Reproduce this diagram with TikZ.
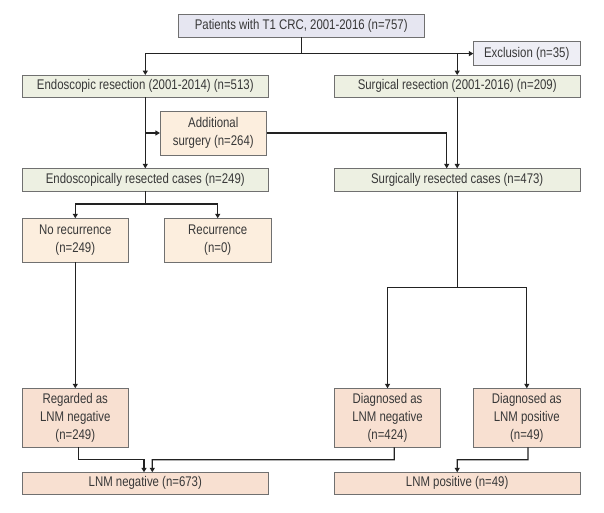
\documentclass[tikz,border=0pt]{standalone}
\usepackage{fontspec}
\setmainfont{Liberation Sans}[FakeStretch=0.815]
\usetikzlibrary{arrows.meta,calc}
\definecolor{lav}{HTML}{E6E6F1}
\definecolor{lavlight}{HTML}{EEEEF5}
\definecolor{grn}{HTML}{EDF0E2}
\definecolor{peach}{HTML}{FCEEDE}
\definecolor{pinkish}{HTML}{F8E0D1}
\definecolor{bordergrey}{HTML}{707070}
\definecolor{linecol}{HTML}{222222}
\definecolor{txt}{HTML}{383838}
\tikzset{
  box/.style={draw=bordergrey, line width=0.9pt, inner sep=0pt, outer sep=0pt,
    text=txt, align=center, font=\fontsize{14}{17.6}\selectfont},
  conn/.style={draw=linecol, line width=1.35pt},
  arr/.style={conn, -{Triangle[length=4.5pt,width=5pt]}},
}
\begin{document}
\begin{tikzpicture}[x=1pt,y=-1pt]
\useasboundingbox (0,0) rectangle (604,513);
\fill[white] (0,0) rectangle (604,513);
% boxes
\node[box, fill=lav, minimum width=245.7pt, minimum height=23pt] (pat) at (301.2,25.8) {Patients with T1 CRC, 2001-2016 (n=757)};
\node[box, fill=lavlight, minimum width=106.7pt, minimum height=23.4pt] (excl) at (526.7,53.6) {Exclusion (n=35)};
\node[box, fill=grn, minimum width=246pt, minimum height=22.3pt] (endo) at (145.3,86.2) {Endoscopic resection (2001-2014) (n=513)};
\node[box, fill=grn, minimum width=245.7pt, minimum height=22.3pt] (surg) at (457.2,86.2) {Surgical resection (2001-2016) (n=209)};
\node[box, fill=peach, minimum width=106.7pt, minimum height=44pt] (add) at (213.3,133) {Additional\\surgery (n=264)};
\node[box, fill=grn, minimum width=246pt, minimum height=22.7pt] (endores) at (145.3,179.7) {Endoscopically resected cases (n=249)};
\node[box, fill=grn, minimum width=245.7pt, minimum height=22.7pt] (surgres) at (457.2,179.7) {Surgically resected cases (n=473)};
\node[box, fill=peach, minimum width=106pt, minimum height=44pt] (norec) at (75.3,240.3) {No recurrence\\(n=249)};
\node[box, fill=peach, minimum width=106.7pt, minimum height=44pt] (rec) at (217.7,240.3) {Recurrence\\(n=0)};
\node[box, fill=pinkish, minimum width=106pt, minimum height=59pt] (reg) at (75.3,417.8) {Regarded as\\LNM negative\\(n=249)};
\node[box, fill=pinkish, minimum width=106.4pt, minimum height=59pt] (dneg) at (387.5,417.8) {Diagnosed as\\LNM negative\\(n=424)};
\node[box, fill=pinkish, minimum width=106.3pt, minimum height=59pt] (dpos) at (526.8,417.8) {Diagnosed as\\LNM positive\\(n=49)};
\node[box, fill=pinkish, minimum width=246pt, minimum height=22pt] (lneg) at (145.3,483.3) {LNM negative (n=673)};
\node[box, fill=pinkish, minimum width=245.7pt, minimum height=22pt] (lpos) at (457.2,483.3) {LNM positive (n=49)};
% junctions
\coordinate (j1) at (301.2,53.6);
\coordinate (j2) at (145.3,204);
\coordinate (j3) at (457.2,287.3);
% connectors
\draw[conn] (pat.south) -- (j1);
\draw[arr] (j1) -| (endo.north);
\draw[arr] (j1) -- (excl.west);
\draw[arr] (j1 -| surg.north) -- (surg.north);
\draw[arr] (endo.south) -- (endores.north);
\draw[arr] (endo.south |- add.west) -- (add.west);
\draw[arr] (add.east) -| ([xshift=-10.5pt]surgres.north);
\draw[arr] (surg.south) -- (surgres.north);
\draw[conn] (endores.south) -- (j2);
\draw[arr] (j2) -| (norec.north);
\draw[arr] (j2) -| (rec.north);
\draw[arr] (norec.south) -- (reg.north);
\draw[conn] (surgres.south) -- (j3);
\draw[arr] (j3) -| (dneg.north);
\draw[arr] (j3) -| (dpos.north);
\draw[arr] ([xshift=3.4pt]reg.south) |- ($([xshift=-1.3pt]lneg.north)!0.5!([xshift=-1.3pt]lneg.north |- reg.south)$) -- ([xshift=-1.3pt]lneg.north);
\draw[arr] ([xshift=6.8pt]dneg.south) |- ($([xshift=7pt]lneg.north)!0.5!([xshift=7pt]lneg.north |- dneg.south)$) -- ([xshift=7pt]lneg.north);
\draw[arr] ([xshift=1.2pt]dpos.south) |- ($(lpos.north)!0.5!(lpos.north |- dpos.south)$) -- (lpos.north);
\end{tikzpicture}
\end{document}
